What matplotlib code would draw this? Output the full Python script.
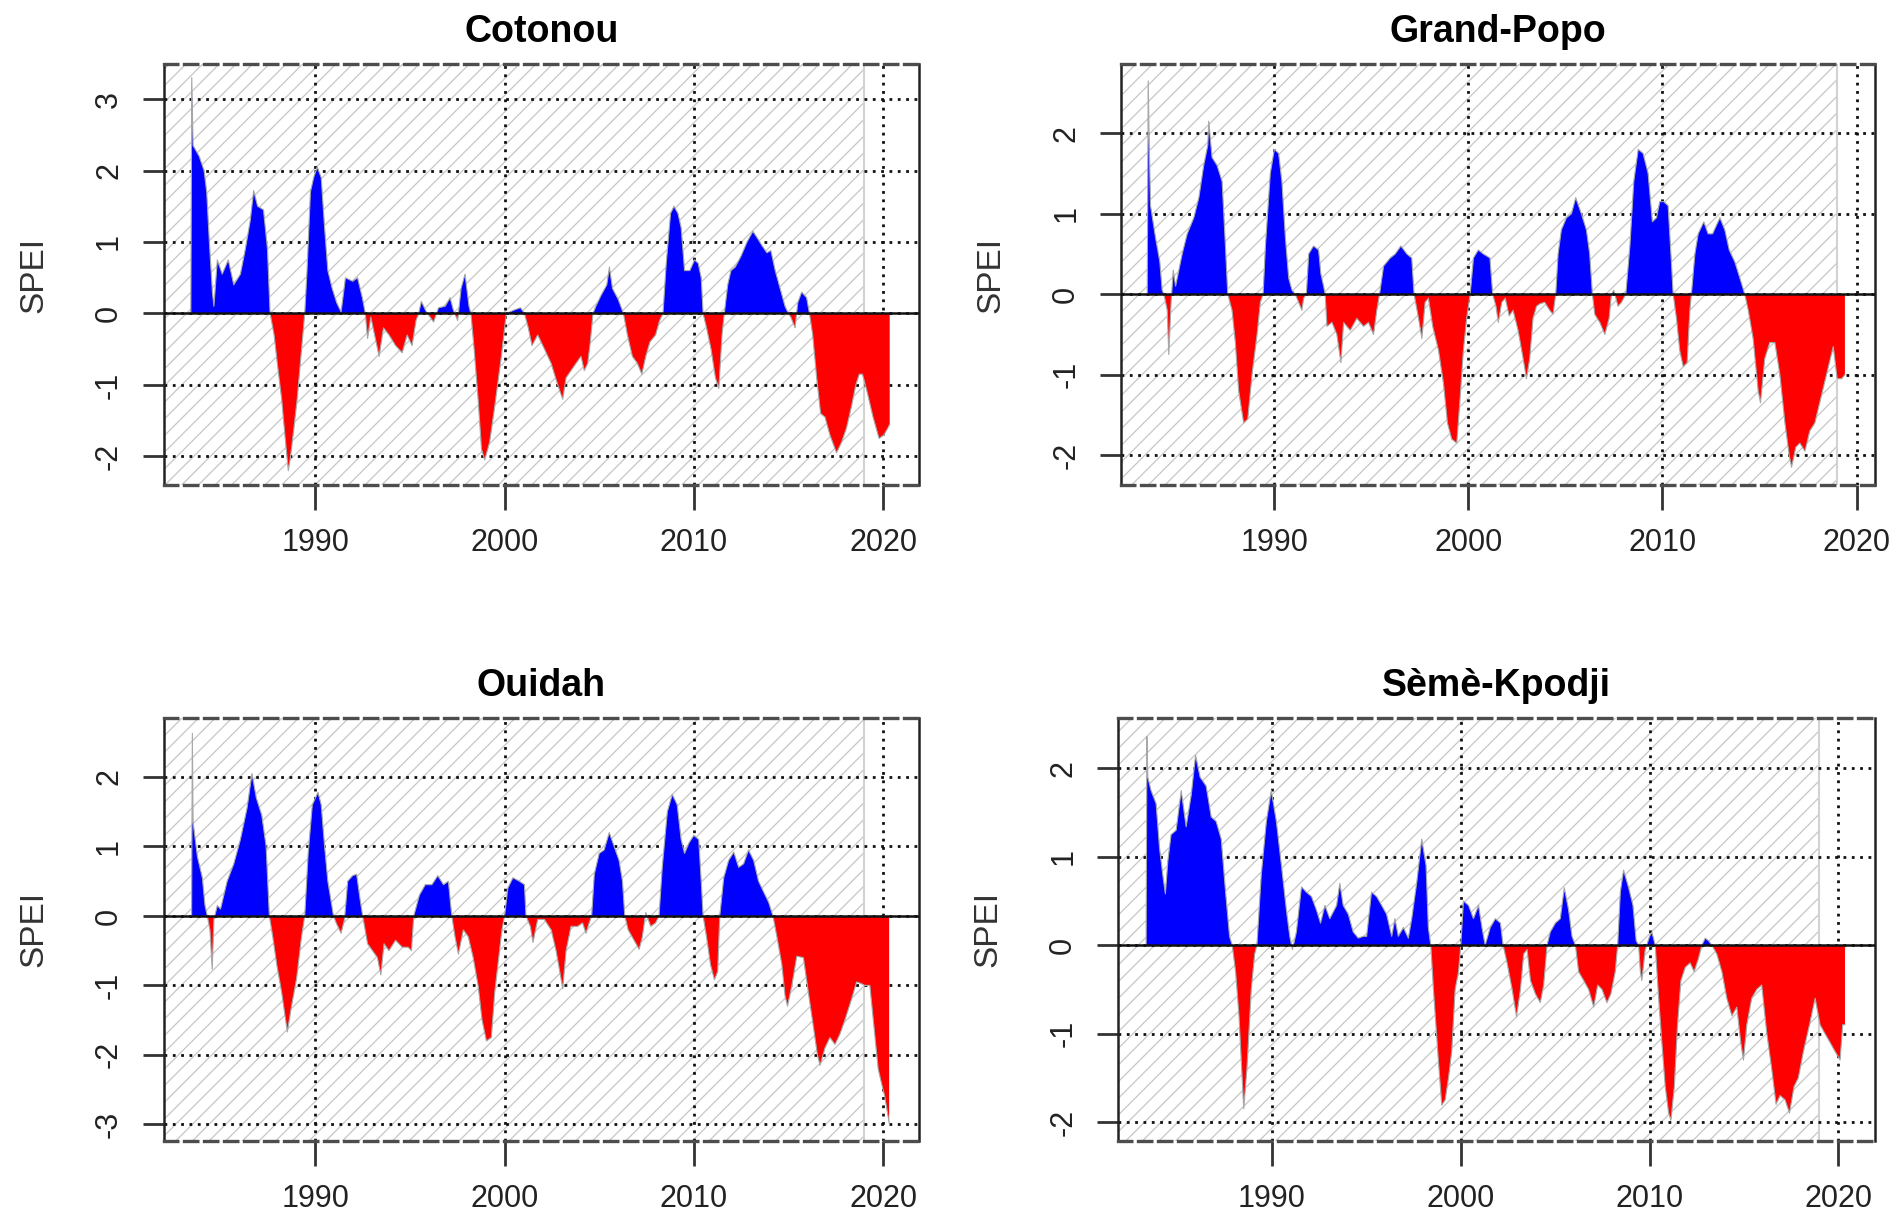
import numpy as np
import matplotlib.pyplot as plt

plt.rcParams['font.family'] = ['Liberation Sans', 'DejaVu Sans']
plt.rcParams['hatch.linewidth'] = 0.9

# SPEI values (decimal year, value)
cot_t = [1983.42, 1983.47, 1983.54, 1983.86, 1984.12, 1984.26, 1984.40, 1984.56, 1984.64, 1984.82,
         1985.08, 1985.40, 1985.69, 1986.04, 1986.30, 1986.56, 1986.74, 1986.95, 1987.26, 1987.47,
         1987.61, 1987.82, 1987.99, 1988.22, 1988.39, 1988.57, 1988.69, 1988.87, 1989.04, 1989.27,
         1989.44, 1989.56, 1989.74, 1989.91, 1990.10, 1990.31, 1990.49, 1990.66, 1990.89, 1991.13,
         1991.36, 1991.59, 1991.97, 1992.23, 1992.50, 1992.64, 1992.76, 1992.93, 1993.37, 1993.60,
         1993.89, 1994.24, 1994.59, 1994.85, 1995.11, 1995.32, 1995.46, 1995.60, 1995.85, 1996.25,
         1996.51, 1996.86, 1997.12, 1997.29, 1997.52, 1997.70, 1997.91, 1998.12, 1998.22, 1998.39,
         1998.60, 1998.78, 1998.95, 1999.21, 1999.48, 1999.83, 2000.09, 2000.52, 2000.84, 2001.05,
         2001.25, 2001.45, 2001.75, 2002.11, 2002.46, 2002.81, 2003.07, 2003.25, 2003.51, 2003.77,
         2004.04, 2004.21, 2004.39, 2004.53, 2004.67, 2004.82, 2005.09, 2005.40, 2005.54, 2005.70,
         2006.00, 2006.28, 2006.49, 2006.75, 2007.02, 2007.25, 2007.46, 2007.68, 2007.98, 2008.19,
         2008.37, 2008.54, 2008.77, 2008.95, 2009.16, 2009.33, 2009.51, 2009.79, 2010.04, 2010.23,
         2010.39, 2010.49, 2010.67, 2010.91, 2011.14, 2011.32, 2011.49, 2011.61, 2011.79, 2011.96,
         2012.19, 2012.49, 2012.81, 2013.12, 2013.37, 2013.60, 2013.86, 2014.07, 2014.30, 2014.56,
         2014.82, 2015.00, 2015.12, 2015.35, 2015.49, 2015.70, 2015.96, 2016.11, 2016.28, 2016.49,
         2016.70, 2016.93, 2017.19, 2017.54, 2017.81, 2018.07, 2018.33, 2018.56, 2018.74, 2018.91,
         2019.16, 2019.47, 2019.79, 2020.04, 2020.26, 2020.35]
cot_v = [0.0, 3.3, 2.35, 2.2, 2.0, 1.7, 1.0, 0.3, 0.1, 0.75,
         0.55, 0.75, 0.4, 0.55, 0.9, 1.3, 1.72, 1.5, 1.45, 0.9,
         0.0, -0.3, -0.7, -1.2, -1.7, -2.2, -2.0, -1.6, -1.2, -0.5,
         0.0, 0.6, 1.7, 1.9, 2.05, 1.9, 1.2, 0.6, 0.35, 0.15,
         0.02, 0.5, 0.45, 0.5, 0.2, 0.0, -0.35, -0.05, -0.6, -0.2,
         -0.3, -0.45, -0.55, -0.3, -0.45, -0.1, 0.0, 0.17, 0.03, -0.12,
         0.08, 0.1, 0.22, 0.05, -0.1, 0.35, 0.55, 0.1, 0.0, -0.5,
         -1.2, -1.9, -2.05, -1.8, -1.3, -0.6, 0.0, 0.05, 0.08, 0.0,
         -0.2, -0.45, -0.3, -0.5, -0.7, -1.0, -1.2, -0.9, -0.8, -0.7,
         -0.6, -0.8, -0.7, -0.4, 0.0, 0.1, 0.25, 0.4, 0.65, 0.35,
         0.2, 0.0, -0.3, -0.6, -0.7, -0.85, -0.6, -0.4, -0.3, -0.1,
         0.0, 0.7, 1.4, 1.5, 1.4, 1.2, 0.6, 0.6, 0.75, 0.7,
         0.5, 0.0, -0.2, -0.5, -0.9, -1.05, -0.3, 0.0, 0.4, 0.6,
         0.65, 0.8, 1.0, 1.15, 1.05, 0.95, 0.85, 0.88, 0.6, 0.35,
         0.1, 0.0, -0.05, -0.2, 0.15, 0.3, 0.22, 0.0, -0.3, -0.9,
         -1.4, -1.45, -1.7, -1.95, -1.8, -1.6, -1.3, -1.0, -0.85, -0.85,
         -1.1, -1.45, -1.75, -1.7, -1.6, -1.55]

gp_t = [1983.45, 1983.50, 1983.55, 1983.62, 1983.88, 1984.10, 1984.22, 1984.31, 1984.48, 1984.56,
        1984.68, 1984.79, 1984.91, 1985.25, 1985.51, 1985.85, 1986.11, 1986.36, 1986.57, 1986.62,
        1986.79, 1987.05, 1987.31, 1987.48, 1987.60, 1987.82, 1987.99, 1988.16, 1988.42, 1988.63,
        1988.85, 1989.11, 1989.28, 1989.42, 1989.54, 1989.79, 1990.00, 1990.22, 1990.39, 1990.57,
        1990.74, 1990.91, 1991.08, 1991.25, 1991.42, 1991.51, 1991.65, 1991.77, 1992.02, 1992.28,
        1992.40, 1992.54, 1992.62, 1992.71, 1992.97, 1993.22, 1993.43, 1993.57, 1993.91, 1994.25,
        1994.60, 1994.85, 1995.11, 1995.28, 1995.42, 1995.63, 1995.97, 1996.23, 1996.52, 1996.83,
        1997.08, 1997.20, 1997.43, 1997.60, 1997.77, 1997.94, 1998.16, 1998.46, 1998.71, 1998.92,
        1999.14, 1999.40, 1999.57, 1999.74, 1999.91, 2000.09, 2000.26, 2000.51, 2000.77, 2001.11,
        2001.25, 2001.42, 2001.54, 2001.72, 2001.90, 2002.10, 2002.30, 2002.56, 2002.82, 2002.99,
        2003.16, 2003.33, 2003.51, 2003.68, 2003.93, 2004.19, 2004.36, 2004.50, 2004.62, 2004.79,
        2005.05, 2005.31, 2005.53, 2005.82, 2006.08, 2006.25, 2006.39, 2006.51, 2006.77, 2007.03,
        2007.25, 2007.37, 2007.49, 2007.71, 2007.89, 2008.11, 2008.32, 2008.52, 2008.75, 2009.00,
        2009.26, 2009.48, 2009.69, 2009.86, 2010.07, 2010.29, 2010.46, 2010.55, 2010.72, 2010.89,
        2011.07, 2011.27, 2011.41, 2011.49, 2011.67, 2011.84, 2012.13, 2012.35, 2012.58, 2012.96,
        2013.21, 2013.44, 2013.73, 2013.99, 2014.24, 2014.42, 2014.67, 2014.93, 2015.05, 2015.27,
        2015.53, 2015.79, 2016.05, 2016.31, 2016.53, 2016.65, 2016.87, 2017.08, 2017.34, 2017.59,
        2017.85, 2018.20, 2018.45, 2018.80, 2019.00, 2019.23, 2019.40]
gp_v = [0.0, 2.65, 1.9, 1.1, 0.7, 0.4, 0.05, 0.0, -0.2, -0.75,
        -0.1, 0.3, 0.1, 0.5, 0.75, 0.95, 1.2, 1.6, 1.85, 2.15,
        1.7, 1.6, 1.4, 0.6, 0.0, -0.2, -0.6, -1.2, -1.6, -1.55,
        -1.0, -0.5, -0.1, 0.0, 0.6, 1.5, 1.8, 1.75, 1.4, 0.7,
        0.2, 0.05, 0.0, -0.1, -0.2, -0.05, 0.0, 0.5, 0.6, 0.55,
        0.25, 0.1, 0.0, -0.4, -0.35, -0.5, -0.85, -0.35, -0.45, -0.3,
        -0.4, -0.35, -0.5, -0.2, 0.0, 0.35, 0.45, 0.5, 0.6, 0.5,
        0.45, 0.0, -0.3, -0.55, -0.1, -0.05, -0.4, -0.7, -1.1, -1.6,
        -1.8, -1.85, -1.3, -0.7, -0.3, 0.0, 0.45, 0.55, 0.5, 0.45,
        0.0, -0.15, -0.35, -0.1, -0.05, -0.27, -0.2, -0.45, -0.8, -1.05,
        -0.8, -0.3, -0.15, -0.12, -0.1, -0.2, -0.25, 0.0, 0.5, 0.8,
        0.95, 1.0, 1.2, 1.0, 0.8, 0.5, 0.0, -0.25, -0.35, -0.5,
        -0.3, 0.0, 0.05, -0.15, -0.1, 0.0, 0.6, 1.4, 1.8, 1.75,
        1.5, 0.9, 0.95, 1.15, 1.15, 1.1, 0.4, 0.0, -0.3, -0.7,
        -0.9, -0.85, -0.2, 0.0, 0.5, 0.75, 0.9, 0.75, 0.75, 0.95,
        0.8, 0.55, 0.4, 0.2, 0.0, -0.2, -0.55, -1.2, -1.35, -0.8,
        -0.6, -0.6, -1.0, -1.6, -2.0, -2.15, -1.9, -1.85, -1.95, -1.7,
        -1.6, -1.25, -1.0, -0.65, -1.05, -1.05, -1.0]

oui_t = [1983.46, 1983.50, 1983.54, 1983.77, 1984.03, 1984.17, 1984.29, 1984.43, 1984.55, 1984.64,
         1984.82, 1984.99, 1985.34, 1985.69, 1986.04, 1986.39, 1986.65, 1986.88, 1987.17, 1987.40,
         1987.57, 1987.75, 1987.96, 1988.22, 1988.52, 1988.74, 1989.01, 1989.27, 1989.44, 1989.62,
         1989.84, 1990.14, 1990.31, 1990.49, 1990.66, 1990.84, 1990.96, 1991.10, 1991.36, 1991.54,
         1991.71, 1991.97, 1992.18, 1992.36, 1992.50, 1992.76, 1993.02, 1993.28, 1993.46, 1993.63,
         1993.89, 1994.24, 1994.59, 1994.90, 1995.08, 1995.20, 1995.50, 1995.81, 1996.16, 1996.47,
         1996.77, 1997.03, 1997.21, 1997.38, 1997.56, 1997.82, 1998.08, 1998.34, 1998.60, 1998.81,
         1999.04, 1999.30, 1999.48, 1999.69, 1999.86, 2000.00, 2000.17, 2000.44, 2000.78, 2001.05,
         2001.13, 2001.36, 2001.50, 2001.75, 2002.10, 2002.46, 2002.72, 2002.98, 2003.07, 2003.25,
         2003.51, 2003.86, 2004.12, 2004.30, 2004.47, 2004.60, 2004.74, 2005.00, 2005.26, 2005.53,
         2005.79, 2006.05, 2006.23, 2006.35, 2006.53, 2006.84, 2007.11, 2007.28, 2007.46, 2007.72,
         2007.98, 2008.16, 2008.33, 2008.60, 2008.86, 2009.12, 2009.33, 2009.51, 2009.74, 2010.00,
         2010.26, 2010.39, 2010.49, 2010.67, 2010.88, 2011.09, 2011.26, 2011.37, 2011.58, 2011.84,
         2012.11, 2012.37, 2012.63, 2012.89, 2013.16, 2013.42, 2013.68, 2013.95, 2014.18, 2014.39,
         2014.65, 2014.82, 2014.95, 2015.18, 2015.44, 2015.79, 2016.05, 2016.32, 2016.53, 2016.67,
         2016.93, 2017.19, 2017.46, 2017.72, 2017.98, 2018.33, 2018.60, 2018.81, 2019.04, 2019.30,
         2019.56, 2019.74, 2019.91, 2020.09, 2020.21, 2020.32]
oui_v = [0.0, 2.63, 1.35, 0.85, 0.55, 0.15, 0.0, -0.2, -0.77, -0.05,
         0.15, 0.1, 0.5, 0.75, 1.1, 1.55, 2.05, 1.7, 1.45, 1.0,
         0.0, -0.3, -0.7, -1.1, -1.67, -1.3, -0.9, -0.3, 0.0, 0.9,
         1.6, 1.78, 1.6, 1.0, 0.5, 0.2, 0.0, -0.1, -0.25, -0.05,
         0.5, 0.58, 0.6, 0.25, 0.0, -0.4, -0.5, -0.6, -0.85, -0.4,
         -0.5, -0.35, -0.45, -0.45, -0.5, 0.0, 0.3, 0.45, 0.45, 0.58,
         0.45, 0.5, 0.0, -0.3, -0.55, -0.2, -0.3, -0.6, -1.0, -1.5,
         -1.8, -1.75, -1.1, -0.6, -0.2, 0.0, 0.4, 0.55, 0.5, 0.45,
         0.0, -0.15, -0.38, -0.05, -0.05, -0.2, -0.5, -0.9, -1.05, -0.5,
         -0.15, -0.15, -0.1, -0.25, -0.1, 0.0, 0.6, 0.9, 0.95, 1.2,
         1.0, 0.8, 0.5, 0.0, -0.2, -0.35, -0.48, -0.3, 0.05, -0.15,
         -0.1, 0.0, 0.7, 1.5, 1.75, 1.6, 1.1, 0.9, 1.05, 1.16,
         1.1, 0.5, 0.0, -0.3, -0.7, -0.92, -0.8, 0.0, 0.55, 0.8,
         0.92, 0.7, 0.75, 0.95, 0.8, 0.5, 0.35, 0.2, 0.0, -0.3,
         -0.7, -1.15, -1.3, -1.0, -0.58, -0.6, -1.1, -1.6, -2.0, -2.15,
         -1.9, -1.75, -1.85, -1.7, -1.5, -1.2, -0.95, -0.97, -1.0, -1.0,
         -1.7, -2.2, -2.4, -2.6, -2.8, -2.98]

sk_t = [1983.33, 1983.37, 1983.42, 1983.59, 1983.86, 1984.04, 1984.21, 1984.35, 1984.48, 1984.65,
        1984.92, 1985.19, 1985.45, 1985.72, 1985.95, 1986.19, 1986.51, 1986.78, 1987.04, 1987.31,
        1987.54, 1987.75, 1987.89, 1988.07, 1988.25, 1988.37, 1988.50, 1988.67, 1988.90, 1989.08,
        1989.20, 1989.43, 1989.70, 1989.96, 1990.23, 1990.50, 1990.76, 1990.94, 1991.08, 1991.29,
        1991.56, 1991.82, 1992.09, 1992.35, 1992.57, 1992.80, 1993.06, 1993.42, 1993.59, 1993.77,
        1994.04, 1994.30, 1994.57, 1994.83, 1995.01, 1995.27, 1995.54, 1995.81, 1996.07, 1996.34,
        1996.51, 1996.69, 1996.96, 1997.22, 1997.40, 1997.66, 1997.93, 1998.16, 1998.28, 1998.41,
        1998.55, 1998.81, 1998.99, 1999.17, 1999.35, 1999.52, 1999.70, 1999.88, 2000.00, 2000.14,
        2000.41, 2000.67, 2000.94, 2001.12, 2001.29, 2001.56, 2001.83, 2002.10, 2002.24, 2002.45,
        2002.72, 2002.95, 2003.16, 2003.33, 2003.51, 2003.69, 2003.95, 2004.21, 2004.39, 2004.57,
        2004.74, 2005.01, 2005.27, 2005.48, 2005.71, 2005.89, 2006.07, 2006.24, 2006.51, 2006.77,
        2007.04, 2007.25, 2007.48, 2007.74, 2007.95, 2008.18, 2008.31, 2008.45, 2008.62, 2008.89,
        2009.12, 2009.29, 2009.42, 2009.51, 2009.59, 2009.77, 2010.00, 2010.12, 2010.30, 2010.48,
        2010.65, 2010.83, 2011.01, 2011.13, 2011.31, 2011.48, 2011.66, 2011.89, 2012.15, 2012.36,
        2012.59, 2012.77, 2012.95, 2013.12, 2013.30, 2013.56, 2013.83, 2014.09, 2014.36, 2014.62,
        2014.83, 2014.97, 2015.15, 2015.41, 2015.68, 2015.94, 2016.21, 2016.47, 2016.70, 2016.91,
        2017.18, 2017.41, 2017.65, 2017.88, 2018.15, 2018.47, 2018.77, 2019.03, 2019.29, 2019.56,
        2019.82, 2020.09, 2020.23, 2020.35]
sk_v = [0.0, 2.36, 1.9, 1.75, 1.6, 1.1, 0.8, 0.58, 0.95, 1.25,
        1.3, 1.75, 1.34, 1.7, 2.15, 1.9, 1.8, 1.45, 1.4, 1.2,
        0.6, 0.1, 0.0, -0.3, -0.8, -1.3, -1.85, -1.4, -0.5, -0.1,
        0.0, 0.8, 1.4, 1.75, 1.4, 0.9, 0.4, 0.1, -0.05, 0.15,
        0.66, 0.6, 0.55, 0.4, 0.25, 0.45, 0.3, 0.45, 0.7, 0.45,
        0.35, 0.15, 0.08, 0.1, 0.1, 0.6, 0.55, 0.45, 0.35, 0.1,
        0.3, 0.1, 0.2, 0.08, 0.3, 0.7, 1.2, 0.9, 0.2, 0.0,
        -0.5, -1.3, -1.81, -1.75, -1.5, -1.2, -0.5, -0.3, 0.0, 0.5,
        0.45, 0.3, 0.45, 0.2, 0.0, 0.2, 0.3, 0.25, 0.0, -0.2,
        -0.5, -0.81, -0.5, -0.1, -0.05, -0.4, -0.55, -0.65, -0.45, 0.0,
        0.15, 0.25, 0.3, 0.65, 0.4, 0.1, 0.0, -0.3, -0.4, -0.5,
        -0.7, -0.45, -0.5, -0.65, -0.55, -0.3, 0.0, 0.6, 0.85, 0.65,
        0.45, 0.05, 0.0, -0.3, -0.4, -0.05, 0.1, 0.15, 0.0, -0.6,
        -1.1, -1.6, -1.9, -1.98, -1.6, -0.9, -0.4, -0.25, -0.2, -0.3,
        -0.15, 0.0, 0.08, 0.05, 0.0, -0.1, -0.3, -0.6, -0.8, -0.7,
        -1.1, -1.3, -0.9, -0.6, -0.5, -0.45, -1.0, -1.4, -1.8, -1.7,
        -1.75, -1.9, -1.6, -1.5, -1.2, -0.9, -0.6, -0.9, -1.0, -1.1,
        -1.2, -1.3, -0.9, -0.9]

titles = ['Cotonou', 'Grand-Popo', 'Ouidah', 'Sèmè-Kpodji']
series = [(cot_t, cot_v), (gp_t, gp_v), (oui_t, oui_v), (sk_t, sk_v)]
xlims = [(1982.0, 2021.9), (1982.1, 2020.95), (1982.0, 2021.9), (1981.84, 2021.94)]
ylims = [(-2.40, 3.49), (-2.37, 2.86), (-3.24, 2.85), (-2.215, 2.57)]
yticks = [[-2, -1, 0, 1, 2, 3], [-2, -1, 0, 1, 2], [-3, -2, -1, 0, 1, 2], [-2, -1, 0, 1, 2]]
xticks = [1990, 2000, 2010, 2020]
ref_end = 2019.0

boxes = [[0.0862, 0.6044, 0.3970, 0.3434],
         [0.5894, 0.6044, 0.3964, 0.3434],
         [0.0862, 0.0693, 0.3970, 0.3451],
         [0.5878, 0.0693, 0.3980, 0.3451]]

fig = plt.figure(figsize=(19.02, 12.26), dpi=100)

for i in range(4):
    ax = fig.add_axes(boxes[i])
    t = np.array(series[i][0])
    v = np.array(series[i][1])
    ax.set_xlim(xlims[i])
    ax.set_ylim(ylims[i])

    # hatched background up to the end of the reference period
    ax.axvspan(xlims[i][0], ref_end, facecolor='white', edgecolor='#c6c6c6',
               hatch='//', lw=0, zorder=0)
    ax.axvline(ref_end, color='#d2d2d2', lw=1.5, zorder=0.5)

    ax.grid(True, color='#111111', lw=2.0, ls=(0, (1, 2.0)), zorder=1)
    ax.set_axisbelow(True)

    ax.fill_between(t, v, 0, where=v >= 0, interpolate=True, color='#0000ff', lw=0, zorder=2)
    ax.fill_between(t, v, 0, where=v <= 0, interpolate=True, color='#ff0000', lw=0, zorder=2)
    ax.plot(t, v, color='#a8a8a8', lw=0.8, zorder=3)
    ax.axhline(0, color='#111111', lw=1.8, zorder=4)

    ax.set_xticks(xticks, [str(k) for k in xticks], va='center')
    ax.set_yticks(yticks[i], [str(k) for k in yticks[i]], rotation=90, va='center', ha='center')
    ax.tick_params(axis='x', length=18, width=2, color='#333333', pad=24,
                   labelsize=22, labelcolor='#222222')
    ax.tick_params(axis='y', length=15, width=2, color='#333333', pad=24.5,
                   labelsize=22, labelcolor='#222222')

    for s in ['top', 'bottom']:
        ax.spines[s].set_linestyle((0, (4.0, 2.0)))
        ax.spines[s].set_linewidth(2.4)
        ax.spines[s].set_color('#4d4d4d')
    for s in ['left', 'right']:
        ax.spines[s].set_linewidth(1.8)
        ax.spines[s].set_color('#222222')

    ax.text(-0.172, 0.5, 'SPEI', transform=ax.transAxes, rotation=90,
            ha='center', va='center', fontsize=24, color='#333333')
    ax.set_title(titles[i], fontsize=27, fontweight='bold', pad=16)

fig.savefig('out.png', dpi=100)
